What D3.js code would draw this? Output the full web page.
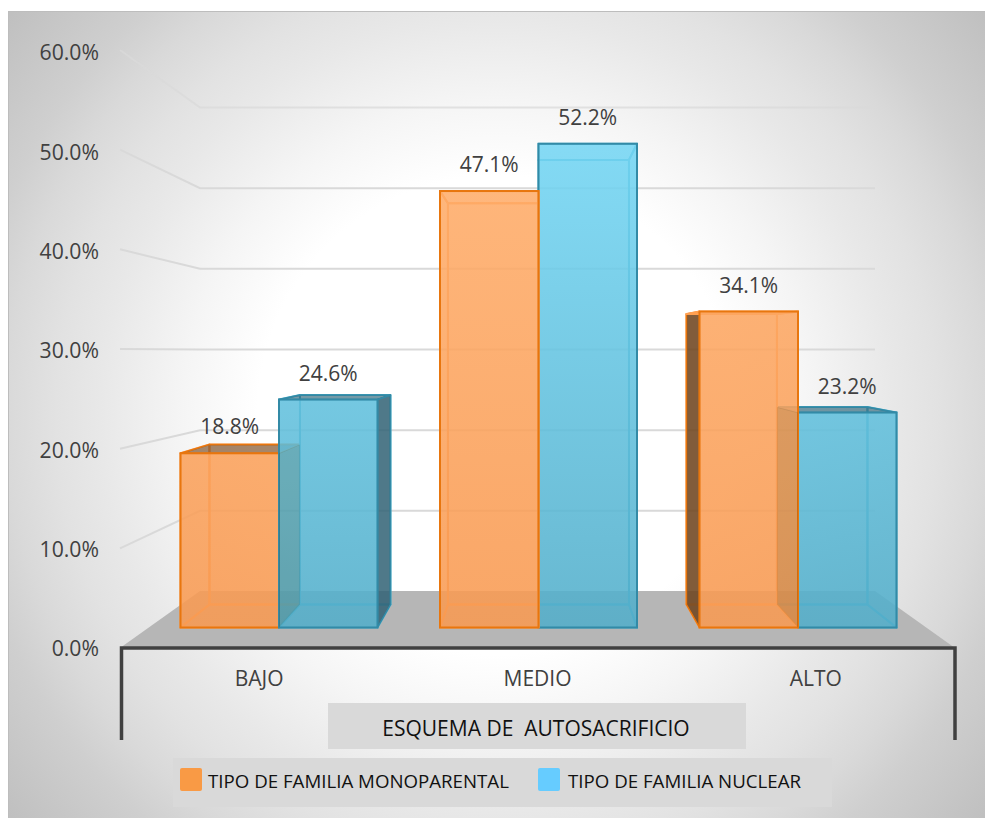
<!DOCTYPE html>
<html><head><meta charset="utf-8">
<script src="https://cdn.jsdelivr.net/npm/d3@7/dist/d3.min.js"></script>
<style>html,body{margin:0;padding:0;background:#fff}svg{display:block}text{font-family:"Open Sans",sans-serif}</style>
</head><body><svg id="c" width="985" height="818"></svg>
<script>
const categories = ["BAJO","MEDIO","ALTO"];
const seriesNames = ["TIPO DE FAMILIA MONOPARENTAL","TIPO DE FAMILIA NUCLEAR"];
const monoparental = [18.8,47.1,34.1];
const nuclear = [24.6,52.2,23.2];
const valueTicks = [0,10,20,30,40,50,60];
const axisTitle = "ESQUEMA DE  AUTOSACRIFICIO";

const svg = d3.select("#c");
const defs = svg.append("defs");
const bg = defs.append("radialGradient").attr("id","bg").attr("gradientUnits","userSpaceOnUse")
  .attr("cx",497).attr("cy",415).attr("r",630);
[[0,"#ffffff"],[0.38,"#ffffff"],[0.5,"#f5f5f5"],[0.63,"#e8e8e8"],[0.7,"#e2e2e2"],[0.78,"#d9d9d9"],[0.85,"#cfcfcf"],[1,"#c0c0c0"]]
  .forEach(s=>bg.append("stop").attr("offset",s[0]).attr("stop-color",s[1]));
function vGrad(id,top,bottom){
  const g=defs.append("linearGradient").attr("id",id).attr("gradientUnits","userSpaceOnUse")
    .attr("x1",0).attr("x2",0).attr("y1",143).attr("y2",627);
  g.append("stop").attr("offset",0).attr("stop-color",top);
  g.append("stop").attr("offset",1).attr("stop-color",bottom);
}
vGrad("gO","#ffae6c","#f89a52");
vGrad("gB","#74d6f4","#52adc9");

svg.append("rect").attr("x",8).attr("y",11).attr("width",977).attr("height",807).attr("fill","#bdbdbd");
svg.append("rect").attr("x",9).attr("y",12).attr("width",976).attr("height",806).attr("fill","url(#bg)");

// scales
const yFrontPlane = d3.scaleLinear().domain([0,60]).range([648,50]);
const yBackPlane = d3.scaleLinear().domain([0,60]).range([591.5,107.5]);
const yTick = d3.scaleLinear().domain([0,60]).range([649,53]);
const yBarFront = d3.scaleLinear().domain([0,60]).range([627.5,71.5]);
const yBarBack = d3.scaleLinear().domain([0,60]).range([604.5,93.5]);
const xAxisBand = d3.scaleBand().domain(categories).range([120,955]);
const xGroup = d3.scaleBand().domain(categories).range([149.25,927.75]);
const xInner = d3.scaleBand().domain(seriesNames).range([-98.5,98.5]);
const backX = d3.scaleLinear().domain([180,896]).range([209,867]);

// floor
const floorL=[120,648], floorBL=[200,591], floorBR=[875,591], floorR=[955,648];
svg.append("polygon").attr("points",[floorL,floorBL,floorBR,floorR].join(" ")).attr("fill","#b6b6b6");

// gridlines
const grid = svg.append("g");
valueTicks.filter(v=>v>0).forEach(v=>{
  grid.append("polyline").attr("fill","none").attr("stroke", "#d9d9d9").attr("stroke-width",2)
   .attr("stroke-opacity", v===60?0.75:1)
   .attr("points",[[120,yFrontPlane(v)],[200,yBackPlane(v)],[875,yBackPlane(v)]].join(" "));
});

// bars
const palette = {
  [seriesNames[0]]:{fill:"url(#gO)",flat:"#ff9a45",edge:"#e8760e",inner:"#ff9f50",dark:"#6b431f"},
  [seriesNames[1]]:{fill:"url(#gB)",flat:"#55c6e8",edge:"#338aa6",inner:"#4fb2ce",dark:"#2f5e70"}
};
const bars=[];
categories.forEach((c,i)=>{
  seriesNames.forEach((s,k)=>{
    bars.push({c,s,k,v:(k===0?monoparental:nuclear)[i]});
  });
});
const mid = 538;
bars.forEach(b=>{
  b.x0 = xGroup(b.c)+xGroup.bandwidth()/2+xInner(b.s);
  b.x1 = b.x0+xInner.bandwidth();
  b.cx=(b.x0+b.x1)/2;
  b.dist=Math.abs(b.cx-mid);
});
bars.sort((a,b)=>b.dist-a.dist);
const barG = svg.append("g");
const overlay = [];
bars.forEach(b=>{
  const p=palette[b.s];
  const fT=yBarFront(b.v), fB=yBarFront(0), bT=yBarBack(b.v), bB=yBarBack(0);
  const bx0=backX(b.x0), bx1=backX(b.x1);
  const g=barG.append("g");
  const poly=(pts,fill,op,stroke,sw)=>g.append("polygon").attr("points",pts.join(" "))
    .attr("fill",fill).attr("fill-opacity",op).attr("stroke",stroke).attr("stroke-width",sw).attr("stroke-linejoin","round");
  poly([[bx0,bT],[bx1,bT],[bx1,bB],[bx0,bB]],p.flat,0.2,p.inner,2);
  poly([[b.x0,fB],[b.x1,fB],[bx1,bB],[bx0,bB]],p.flat,0.15,p.inner,2);
  const leftPts=[[b.x0,fT],[b.x0,fB],[bx0,bB],[bx0,bT]], rightPts=[[b.x1,fT],[b.x1,fB],[bx1,bB],[bx1,bT]];
  const leftOut = bx0<b.x0, rightOut = bx1>b.x1;
  if(leftOut){ if(b.k===1) overlay.push(leftPts); else poly(leftPts,p.dark,0.85,p.edge,1.5); }
  else poly(leftPts,p.flat,0.15,p.inner,2);
  if(rightOut){ if(b.k===0) overlay.push(rightPts); else poly(rightPts,p.dark,0.82,p.edge,1.5); }
  else poly(rightPts,p.flat,0.15,p.inner,2);
  const topOut = bT<fT;
  poly([[b.x0,fT],[b.x1,fT],[bx1,bT],[bx0,bT]],topOut?p.dark:p.flat,topOut?0.6:0.1,topOut?p.edge:p.inner,topOut?1.5:2);
  g.append("rect").attr("x",b.x0).attr("y",fT).attr("width",b.x1-b.x0).attr("height",fB-fT)
   .attr("fill",p.fill).attr("fill-opacity",0.85).attr("stroke",p.edge).attr("stroke-width",2);
  b.fT=fT;
});
// faces seen through the neighbouring bar
overlay.forEach(pts=>barG.append("polygon").attr("points",pts.join(" ")).attr("fill","#3a3000").attr("fill-opacity",0.14));
bars.forEach(b=>{
  barG.append("text").attr("x",b.cx).attr("y",b.fT-26.5).attr("dy","0.36em").attr("text-anchor","middle")
   .attr("font-size",21).attr("fill","#404040").text(b.v.toFixed(1)+"%");
});

// value axis
const yAxis = svg.append("g").attr("transform","translate(99,0)")
  .call(d3.axisLeft(yTick).tickValues(valueTicks).tickSize(0).tickPadding(0).tickFormat(d=>d.toFixed(1)+"%"));
yAxis.select(".domain").remove();
yAxis.selectAll("text").attr("font-size",21.2).attr("font-family",'"Open Sans",sans-serif').attr("fill","#404040");

// category axis
svg.append("path").attr("d","M121.5,740V648H955V740").attr("fill","none").attr("stroke","#404040").attr("stroke-width",3.5);
const xAxis = svg.append("g").attr("transform","translate(0,671)")
  .call(d3.axisBottom(xAxisBand).tickSize(0).tickPadding(0));
xAxis.select(".domain").remove();
xAxis.selectAll("text").attr("font-size",21).attr("font-family",'"Open Sans",sans-serif').attr("fill","#404040");

// axis title
svg.append("rect").attr("x",328).attr("y",703).attr("width",418).attr("height",46).attr("fill","#d9d9d9");
svg.append("text").attr("x",536).attr("y",728).attr("dy","0.36em").attr("text-anchor","middle").attr("font-size",21).attr("fill","#111").attr("xml:space","preserve").style("white-space","pre").text(axisTitle);

// legend
svg.append("rect").attr("x",173).attr("y",758).attr("width",659).attr("height",49).attr("fill","#d9d9d9");
const legendX=[180,538], legendColor=["#f99a45","#66ccff"];
seriesNames.forEach((s,i)=>{
  svg.append("rect").attr("x",legendX[i]).attr("y",768).attr("width",22).attr("height",23).attr("rx",2).attr("fill",legendColor[i]);
  svg.append("text").attr("x",legendX[i]+28+(i?2:0)).attr("y",781).attr("dy","0.36em").attr("font-size",18.7).attr("fill","#111").text(s);
});
</script></body></html>
